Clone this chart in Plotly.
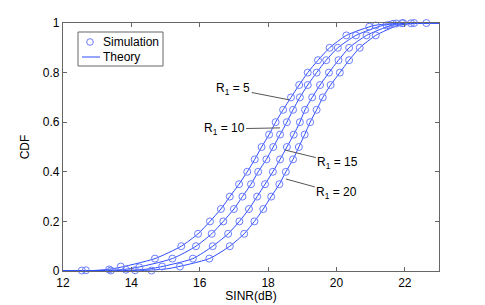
import plotly.graph_objects as go

# ---------------- data ----------------
mid_cdf = [0.05, 0.10, 0.15, 0.20, 0.25, 0.30, 0.35, 0.40, 0.45, 0.50,
           0.55, 0.60, 0.65, 0.70, 0.75, 0.80, 0.85, 0.90, 0.95]

# simulation (markers): SINR (dB) at each CDF level
sim_mid_r5 = [14.69, 15.46, 15.95, 16.30, 16.62, 16.88, 17.15, 17.39, 17.61, 17.81,
              18.03, 18.22, 18.44, 18.67, 18.91, 19.16, 19.46, 19.80, 20.29]
sim_mid_r10 = [15.20, 15.89, 16.35, 16.69, 17.00, 17.25, 17.50, 17.71, 17.95, 18.15,
               18.35, 18.55, 18.73, 18.93, 19.16, 19.42, 19.70, 20.04, 20.57]
sim_mid_r15 = [15.80, 16.38, 16.83, 17.16, 17.44, 17.68, 17.91, 18.14, 18.35, 18.55,
               18.75, 18.93, 19.08, 19.29, 19.52, 19.78, 20.06, 20.37, 20.88]
sim_mid_r20 = [16.28, 16.88, 17.30, 17.60, 17.86, 18.09, 18.33, 18.52, 18.73, 18.90,
               19.07, 19.23, 19.42, 19.60, 19.83, 20.10, 20.37, 20.68, 21.15]

sim_lo_x_r5, sim_lo_y_r5 = [12.55, 13.35, 13.69], [0.002, 0.006, 0.018]
sim_hi_x_r5, sim_hi_y_r5 = [20.96, 21.66, 21.95], [0.985, 0.997, 1.0]
sim_lo_x_r10, sim_lo_y_r10 = [12.67, 13.84, 14.23], [0.003, 0.005, 0.015]
sim_hi_x_r10, sim_hi_y_r10 = [21.15, 21.75, 22.27], [0.99, 0.998, 1.0]
sim_lo_x_r15, sim_lo_y_r15 = [13.40, 14.11, 14.90], [0.002, 0.003, 0.018]
sim_hi_x_r15, sim_hi_y_r15 = [21.46, 21.92], [0.99, 0.999]
sim_lo_x_r20, sim_lo_y_r20 = [14.59, 15.42], [0.002, 0.018]
sim_hi_x_r20, sim_hi_y_r20 = [21.54, 22.18, 22.63], [0.992, 0.999, 1.0]

# theory (lines): SINR (dB) at each CDF level
theory_cdf = [0.0, 0.002, 0.01] + mid_cdf + [0.99, 0.998, 1.0, 1.0]
theory_r5 = [12.0, 12.9, 13.5] + sim_mid_r5 + [21.1, 21.7, 22.2, 23.0]
theory_r10 = [12.0, 13.3, 14.0] + sim_mid_r10 + [21.35, 21.9, 22.4, 23.0]
theory_r15 = [12.0, 13.8, 14.6] + sim_mid_r15 + [21.6, 22.1, 22.6, 23.0]
theory_r20 = [12.0, 14.3, 15.1] + sim_mid_r20 + [21.8, 22.3, 22.8, 23.0]

labels = ["R<sub>1</sub> = 5", "R<sub>1</sub> = 10", "R<sub>1</sub> = 15", "R<sub>1</sub> = 20"]
label_tip_x = [18.62, 18.35, 18.49, 18.52]
label_tip_y = [0.69, 0.577, 0.488, 0.371]

legend_names = ["Simulation", "Theory"]

x_ticks = [12, 14, 16, 18, 20, 22]
y_ticks = [0, 0.2, 0.4, 0.6, 0.8, 1]
y_tick_text = ["0", "0.2", "0.4", "0.6", "0.8", "1"]

# ---------------- figure ----------------
LINE_C = "rgb(45,75,255)"
MARK_C = "rgb(105,125,255)"
AX_C = "#666666"
FONT = "Liberation Sans, Arial, sans-serif"

W, H = 485, 305
ML, MR, MT, MB = 63, 46, 23, 34
PW, PH = W - ML - MR, H - MT - MB


def px(xp):
    return (xp - ML) / PW


def py(yp):
    return (H - MB - yp) / PH


fig = go.Figure()

sims = [
    (sim_lo_x_r5 + sim_mid_r5 + sim_hi_x_r5, sim_lo_y_r5 + mid_cdf + sim_hi_y_r5),
    (sim_lo_x_r10 + sim_mid_r10 + sim_hi_x_r10, sim_lo_y_r10 + mid_cdf + sim_hi_y_r10),
    (sim_lo_x_r15 + sim_mid_r15 + sim_hi_x_r15, sim_lo_y_r15 + mid_cdf + sim_hi_y_r15),
    (sim_lo_x_r20 + sim_mid_r20 + sim_hi_x_r20, sim_lo_y_r20 + mid_cdf + sim_hi_y_r20),
]
theories = [theory_r5, theory_r10, theory_r15, theory_r20]

for th in theories:
    fig.add_trace(go.Scatter(
        x=th, y=theory_cdf, mode="lines", name=legend_names[1],
        line=dict(color=LINE_C, width=1, shape="spline", smoothing=0.6),
        showlegend=False))

for sx, sy in sims:
    fig.add_trace(go.Scatter(
        x=sx, y=sy, mode="markers", name=legend_names[0],
        marker=dict(symbol="circle-open", size=7, color=MARK_C, line=dict(width=1)),
        showlegend=False, cliponaxis=False))

ann_offsets = [(-56, -11), (-56, 1), (53, 13), (51, 14)]
for lab, tx, ty, (ax, ay) in zip(labels, label_tip_x, label_tip_y, ann_offsets):
    fig.add_annotation(x=tx, y=ty, text=lab, showarrow=True, arrowhead=0,
                       arrowwidth=1, arrowcolor="#555555", ax=ax, ay=ay,
                       font=dict(size=12, color="black", family=FONT))

# ----- MATLAB-style legend box -----
fig.add_shape(type="rect", xref="paper", yref="paper",
              x0=px(78), x1=px(163), y0=py(66), y1=py(32),
              line=dict(color=AX_C, width=1), fillcolor="white", layer="above")
r = 3.3
fig.add_shape(type="circle", xref="paper", yref="paper",
              x0=px(90 - r), x1=px(90 + r), y0=py(42 + r), y1=py(42 - r),
              line=dict(color=MARK_C, width=1), layer="above")
fig.add_shape(type="line", xref="paper", yref="paper",
              x0=px(82), x1=px(100), y0=py(57), y1=py(57),
              line=dict(color=LINE_C, width=1), layer="above")
for name, yp in zip(legend_names, [42, 57]):
    fig.add_annotation(xref="paper", yref="paper", x=px(101), y=py(yp),
                       xanchor="left", yanchor="middle", text=name, showarrow=False,
                       font=dict(size=12, color="black", family=FONT))

axis_common = dict(showgrid=False, zeroline=False, showline=True, linecolor=AX_C,
                   linewidth=1.2, mirror="ticks", ticks="inside", ticklen=4,
                   tickcolor=AX_C, automargin=False,
                   tickfont=dict(size=12, color="black", family=FONT))

fig.update_xaxes(range=[12, 23], tickvals=x_ticks,
                 title=dict(text="SINR(dB)", font=dict(size=12, color="black", family=FONT), standoff=2),
                 **axis_common)
fig.update_yaxes(range=[0, 1], tickvals=y_ticks, ticktext=y_tick_text,
                 title=dict(text="CDF", font=dict(size=12, color="black", family=FONT), standoff=10),
                 **axis_common)

fig.update_layout(
    width=W, height=H,
    margin=dict(l=ML, r=MR, t=MT, b=MB),
    paper_bgcolor="white", plot_bgcolor="white",
    font=dict(family=FONT, color="black"),
    showlegend=False,
)

fig.write_html("out.html", config={"displayModeBar": False},
               post_script="document.body.style.margin='0';document.body.style.overflow='hidden';")
